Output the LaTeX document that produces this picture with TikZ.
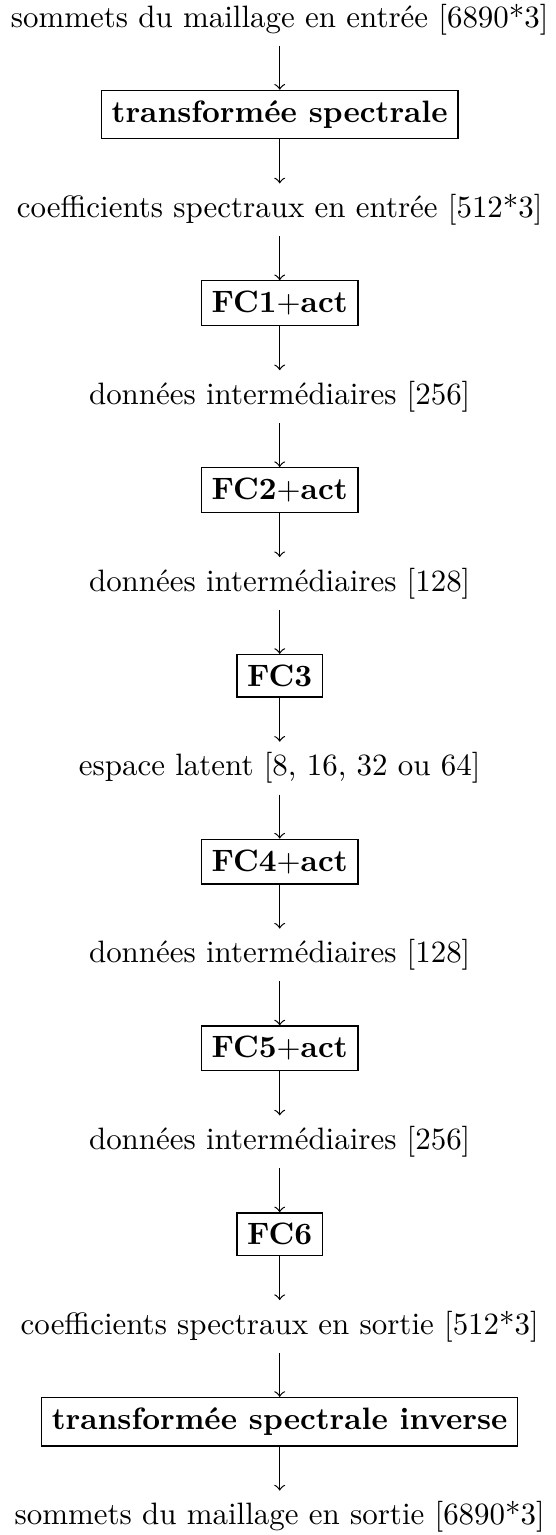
\documentclass[tikz,border=0pt]{standalone}
\usetikzlibrary{positioning}

\tikzset{
    bloc/.style={draw, font=\bfseries},
    donnee/.style={}
}

\begin{document}
\begin{tikzpicture}[node distance=0.5cm]

    \node[donnee] (vin) {sommets du maillage en entrée [6890*3]};
    \node[bloc, below=of vin] (ts) {transformée spectrale};
    \node[donnee, below=of ts] (cin) {coefficients spectraux en entrée [512*3]};
    \node[bloc, below=of cin] (fc1) {FC1$+$act};
    \node[donnee, below=of fc1] (d1) {données intermédiaires [256]};
    \node[bloc, below=of d1] (fc2) {FC2$+$act};
    \node[donnee, below=of fc2] (d2) {données intermédiaires [128]};
    \node[bloc, below=of d2] (fc3) {FC3};
    \node[donnee, below=of fc3] (lat) {espace latent [8, 16, 32 ou 64]};
    \node[bloc, below=of lat] (fc4) {FC4$+$act};
    \node[donnee, below=of fc4] (d3) {données intermédiaires [128]};
    \node[bloc, below=of d3] (fc5) {FC5$+$act};
    \node[donnee, below=of fc5] (d4) {données intermédiaires [256]};
    \node[bloc, below=of d4] (fc6) {FC6};
    \node[donnee, below=of fc6] (cout) {coefficients spectraux en sortie [512*3]};
    \node[bloc, below=of cout] (tsi) {transformée spectrale inverse};
    \node[donnee, below=of tsi] (vout) {sommets du maillage en sortie [6890*3]};

    \foreach \a/\b in {vin/ts, ts/cin, cin/fc1, fc1/d1, d1/fc2, fc2/d2, d2/fc3, fc3/lat,
                       lat/fc4, fc4/d3, d3/fc5, fc5/d4, d4/fc6, fc6/cout, cout/tsi, tsi/vout} {
        \draw[->] (\a) -- (\b);
    }

    % cadre serre sur le texte
    \coordinate (hg) at ([yshift=-2.3pt]vin.north west);
    \coordinate (bd) at (vin.east |- vout.south);
    \pgfresetboundingbox
    \useasboundingbox (hg) rectangle ([xshift=-1.3pt, yshift=2.7pt]bd);

\end{tikzpicture}
\end{document}
